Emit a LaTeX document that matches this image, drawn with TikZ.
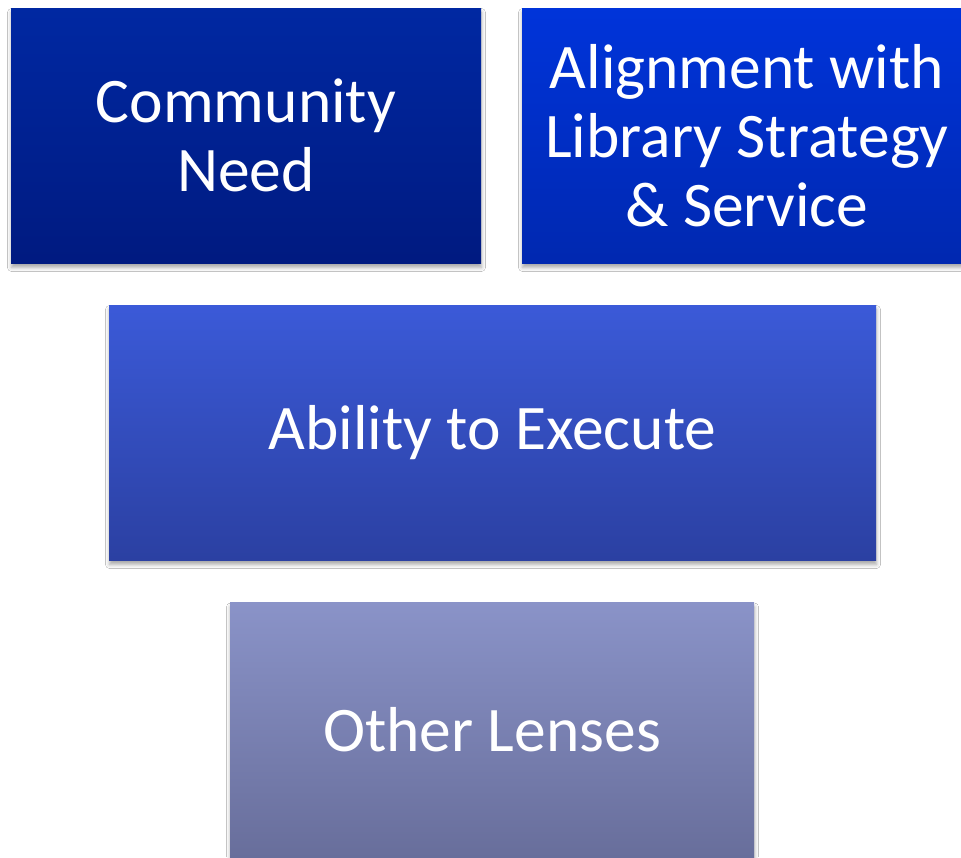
\documentclass[tikz,border=0pt]{standalone}
\usepackage{fontspec}
\setmainfont{Carlito}
\usetikzlibrary{shadows.blur}
\definecolor{aTop}{RGB}{0,40,162}
\definecolor{aBot}{RGB}{0,26,128}
\definecolor{bTop}{RGB}{0,52,218}
\definecolor{bBot}{RGB}{0,40,176}
\definecolor{cTop}{RGB}{59,90,216}
\definecolor{cBot}{RGB}{43,64,162}
\definecolor{dTop}{RGB}{138,147,200}
\definecolor{dBot}{RGB}{104,110,155}
\begin{document}
\begin{tikzpicture}[x=1pt,y=1pt,
  box/.style={rectangle, inner sep=0pt, text=white,
    font=\fontsize{63.5}{69}\selectfont, align=center,
    minimum height=255,
    blur shadow={shadow xshift=0.5pt, shadow yshift=-4.5pt, shadow blur radius=4pt, shadow opacity=35}}]
\useasboundingbox (0,0) rectangle (961,-857);
\clip (0,0) rectangle (961,-857);
\fill[white] (0,0) rectangle (961,-857);
\node[box, minimum width=470, top color=aTop, bottom color=aBot] (need) at (246,-135.5) {Community\\Need};
\node[box, minimum width=450, top color=bTop, bottom color=bBot] (align) at (747,-135.5) {Alignment with\\Library Strategy\\\& Service};
\node[box, minimum width=767, top color=cTop, bottom color=cBot] (exec) at (492.5,-432.5) {Ability to Execute};
\node[box, minimum width=524, top color=dTop, bottom color=dBot] (other) at (492,-730) {Other Lenses};
\end{tikzpicture}
\end{document}
